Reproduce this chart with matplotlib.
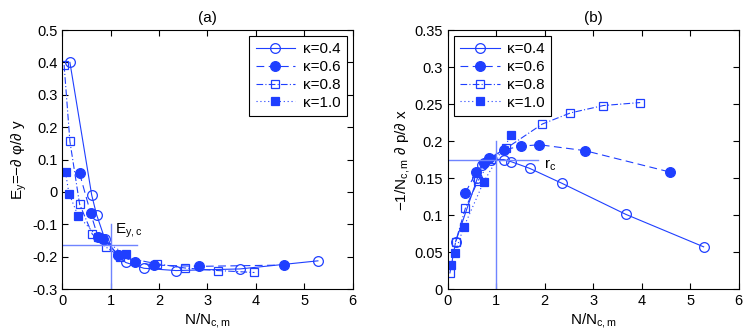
import matplotlib
matplotlib.use('Agg')
import matplotlib.pyplot as plt
from matplotlib.ticker import FormatStrFormatter

plt.rcParams['font.family'] = ['Liberation Sans', 'DejaVu Sans']
plt.rcParams['mathtext.fontset'] = 'custom'
plt.rcParams['mathtext.rm'] = 'Liberation Sans'
plt.rcParams['mathtext.it'] = 'Liberation Sans'
plt.rcParams['axes.unicode_minus'] = True

BLUE = '#1f3fff'
LIGHT = '#6f84ff'

# N/N_c,m for each kappa
k04_x = [0.16, 0.61, 0.71, 0.88, 1.15, 1.31, 1.69, 2.35, 3.67, 5.28]
k06_x = [0.36, 0.585, 0.74, 0.85, 1.15, 1.5, 1.89, 2.83, 4.59]
k08_x = [0.04, 0.16, 0.36, 0.62, 0.9, 1.2, 1.95, 2.53, 3.21, 3.97]
k10_x = [0.07, 0.14, 0.33, 0.74, 1.31]

# panel (a): E_y
k04_ey = [0.40, -0.01, -0.07, -0.145, -0.195, -0.218, -0.236, -0.243, -0.238, -0.213]
k06_ey = [0.057, -0.064, -0.14, -0.145, -0.194, -0.217, -0.226, -0.23, -0.226]
k08_ey = [0.392, 0.156, -0.038, -0.13, -0.17, -0.2, -0.222, -0.235, -0.243, -0.249]
k10_ey = [0.06, -0.005, -0.074, -0.14, -0.192]

# panel (b): -1/N_c,m dp/dx
k04_dp = [0.064, 0.150, 0.168, 0.175, 0.175, 0.172, 0.163, 0.143, 0.101, 0.057]
k06_dp = [0.130, 0.158, 0.170, 0.177, 0.188, 0.193, 0.195, 0.187, 0.158]
k08_dp = [0.021, 0.064, 0.109, 0.146, 0.176, 0.190, 0.223, 0.238, 0.248, 0.252]
k10_dp = [0.032, 0.048, 0.084, 0.145, 0.208]

labels = ['\u03ba=0.4', '\u03ba=0.6', '\u03ba=0.8', '\u03ba=1.0']

# critical values
ey_c = -0.165
r_c = 0.175

styles = [
    dict(ls='-', marker='o', mfc='none', ms=7),
    dict(ls=(0, (7, 4)), marker='o', mfc=BLUE, ms=7),
    dict(ls=(0, (6, 2, 1, 2)), marker='s', mfc='none', ms=5.5),
    dict(ls=(0, (1, 2.5)), marker='s', mfc=BLUE, ms=5.5),
]


def style_axes(ax):
    ax.tick_params(direction='in', top=True, right=True, labelsize=10.5, length=4)
    for s in ax.spines.values():
        s.set_linewidth(0.8)


def add_legend(ax, loc):
    leg = ax.legend(loc=loc, fontsize=11, handlelength=2.6, borderpad=0.4,
                    labelspacing=0.25, handletextpad=0.5, fancybox=False,
                    framealpha=1, borderaxespad=0.4)
    leg.get_frame().set_edgecolor('black')
    leg.get_frame().set_linewidth(0.8)


fig = plt.figure(figsize=(7.49, 3.32), dpi=100)
ax1 = fig.add_axes([0.083, 0.1295, 0.388, 0.78])
ax2 = fig.add_axes([0.598, 0.1295, 0.388, 0.78])

xs = [k04_x, k06_x, k08_x, k10_x]
for x, y, st, lab in zip(xs, [k04_ey, k06_ey, k08_ey, k10_ey], styles, labels):
    ax1.plot(x, y, color=BLUE, lw=0.8, mec=BLUE, mew=0.9, label=lab, **st)
for x, y, st, lab in zip(xs, [k04_dp, k06_dp, k08_dp, k10_dp], styles, labels):
    ax2.plot(x, y, color=BLUE, lw=0.8, mec=BLUE, mew=0.9, label=lab, **st)

# panel (a)
ax1.plot([0, 1.55], [ey_c, ey_c], color=LIGHT, lw=1.0)
ax1.plot([1, 1], [-0.3, -0.1], color=LIGHT, lw=1.0)
ax1.text(1.1, -0.128, r'E$_{y,c}$', fontsize=11)
ax1.set_xlim(0, 6)
ax1.set_ylim(-0.3, 0.5)
ax1.set_yticks([-0.3, -0.2, -0.1, 0, 0.1, 0.2, 0.3, 0.4, 0.5])
ax1.yaxis.set_major_formatter(FormatStrFormatter('%g'))
ax1.set_xlabel(r'N/N$_{c,m}$', fontsize=11, labelpad=2)
ax1.set_ylabel('E$_y$=\u2212\u2202 \u03c6/\u2202 y', fontsize=11, labelpad=2)
ax1.set_title('(a)', fontsize=11, pad=6)
style_axes(ax1)
add_legend(ax1, 'upper right')

# panel (b)
ax2.plot([0, 1.87], [r_c, r_c], color=LIGHT, lw=1.0)
ax2.plot([1, 1], [0, 0.2], color=LIGHT, lw=1.0)
ax2.text(1.98, 0.163, r'r$_c$', fontsize=11)
ax2.set_xlim(0, 6)
ax2.set_ylim(0, 0.35)
ax2.set_yticks([0, 0.05, 0.1, 0.15, 0.2, 0.25, 0.3, 0.35])
ax2.yaxis.set_major_formatter(FormatStrFormatter('%g'))
ax2.set_xlabel(r'N/N$_{c,m}$', fontsize=11, labelpad=2)
ax2.set_ylabel('\u22121/N$_{c,m}$ \u2202 p/\u2202 x', fontsize=11, labelpad=2)
ax2.set_title('(b)', fontsize=11, pad=6)
style_axes(ax2)
add_legend(ax2, 'upper left')

fig.savefig('out.png', dpi=100)
